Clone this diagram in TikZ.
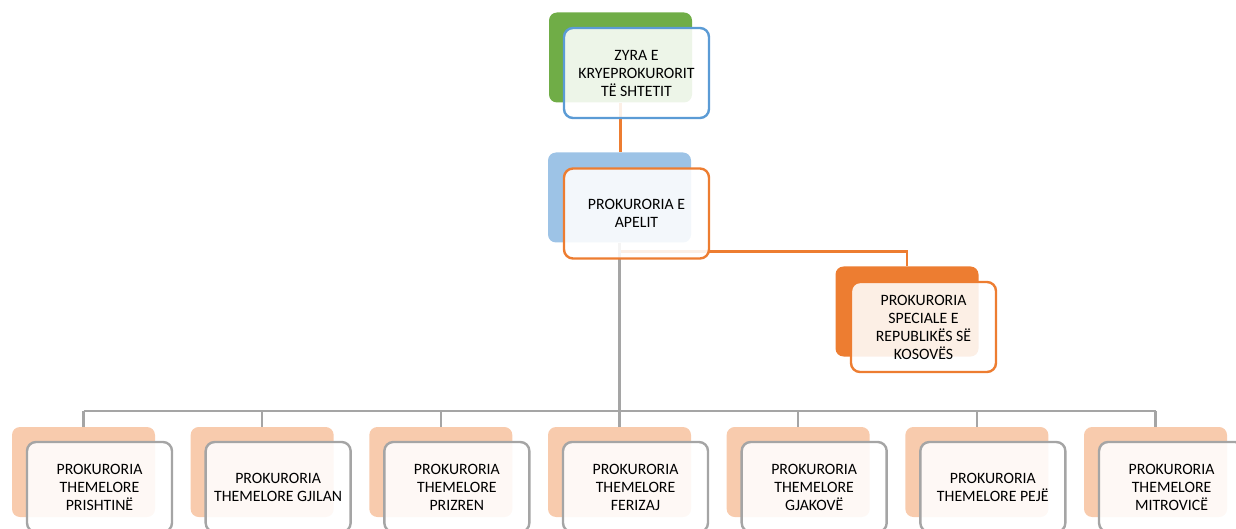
\documentclass[tikz,border=0pt]{standalone}
\usepackage{fontspec}
\setmainfont{Carlito}
\usetikzlibrary{positioning,calc}
\definecolor{cgreen}{HTML}{70AD47}
\definecolor{cblue}{HTML}{5B9BD5}
\definecolor{clblue}{HTML}{9DC3E6}
\definecolor{corange}{HTML}{ED7D31}
\definecolor{cpeach}{HTML}{F8CBAD}
\definecolor{cgray}{HTML}{A5A5A5}
\tikzset{backbox/.style={rectangle, rounded corners=8pt, inner sep=0pt, minimum width=143pt, minimum height=90pt}}
\tikzstyle{frontbox}=[rectangle, draw, rounded corners=9pt, line width=2.4pt, inner sep=2pt, minimum width=145pt, minimum height=90pt, align=center, fill=white, fill opacity=0.88, text opacity=1, font=\fontsize{15.8}{18}\selectfont]
\tikzstyle{oline}=[draw=corange, line width=2.5pt]
\tikzstyle{gline}=[draw=cgray, line width=2.5pt]

\begin{document}
\begin{tikzpicture}[x=1pt, y=-1pt]
\clip (0,0) rectangle (1236,529);
\node[backbox, fill=cgreen] (ZB) at (620.5,57.5) {};
\node[backbox, fill=clblue] (AB) at (619.5,197.5) {};
\node[backbox, fill=corange] (SB) at (907,311.5) {};
\foreach \i in {0,...,6}
  \node[backbox, fill=cpeach] (B\i) at (83.5+178.67*\i, 472) {};
% lidhjet
\coordinate (bus) at ($(B3.north)+(0,-16)$);
\draw[oline] (ZB.south) -- (ZB.south |- AB.north);
\draw[oline] (AB.south) -- ++(0,9) -| (SB.north);
\draw[gline] (AB.south) -- (AB.south |- bus);
\draw[gline] (bus -| B0.north) -- (bus -| B6.north);
\foreach \i in {0,...,6}
  \draw[gline] (bus -| B\i.north) -- (B\i.north);
% kutite
\node[frontbox, draw=cblue] (Z) at ($(ZB)+(16,15.5)$) {ZYRA E\\KRYEPROKURORIT\\TË SHTETIT};
\node[frontbox, draw=corange] (A) at ($(AB)+(17,16)$) {PROKURORIA E\\APELIT};
\node[frontbox, draw=corange] (S) at ($(SB)+(16.5,15.5)$) {PROKURORIA\\SPECIALE E\\REPUBLIKËS SË\\KOSOVËS};
\foreach \txt [count=\i from 0] in {{PROKURORIA\\THEMELORE\\PRISHTINË},{PROKURORIA\\THEMELORE GJILAN},{PROKURORIA\\THEMELORE\\PRIZREN},{PROKURORIA\\THEMELORE\\FERIZAJ},{PROKURORIA\\THEMELORE\\GJAKOVË},{PROKURORIA\\THEMELORE PEJË},{PROKURORIA\\THEMELORE\\MITROVICË}}
  \node[frontbox, draw=cgray] (T\i) at ($(B\i)+(16,15)$) {\txt};
\end{tikzpicture}
\end{document}
